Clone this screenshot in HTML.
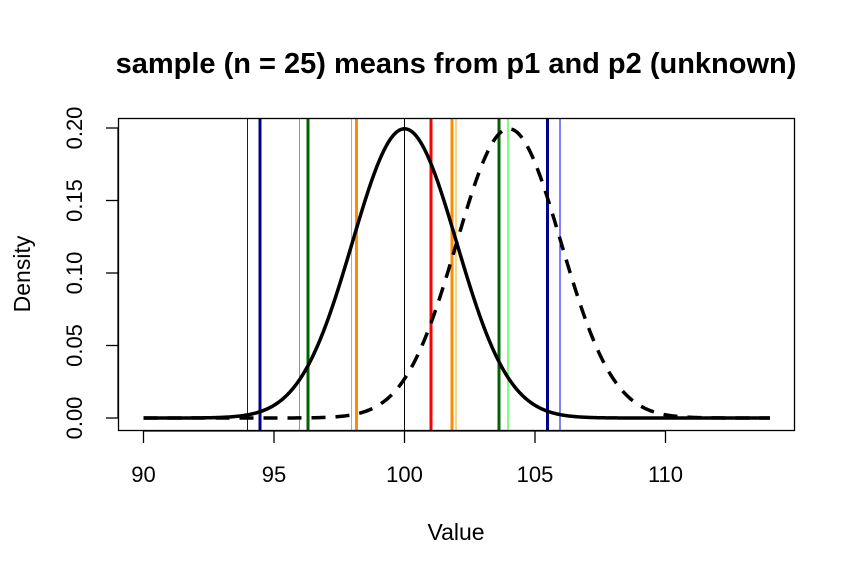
<!DOCTYPE html>
<html><head><meta charset="utf-8"><style>body{margin:0;background:#fff}svg{display:block}text{font-family:"Liberation Sans",Arial,sans-serif}</style></head>
<body>
<svg id="s" width="855" height="577" xmlns="http://www.w3.org/2000/svg">
<text x="456" y="73" font-size="29" font-weight="bold" text-anchor="middle">sample (n = 25) means from p1 and p2 (unknown)</text>
<text x="456" y="540" font-size="23" text-anchor="middle">Value</text>
<text transform="translate(30,274) rotate(-90)" font-size="23" text-anchor="middle">Density</text>
<g id="v"></g>
<path id="c1" fill="none" stroke="#000" stroke-width="3.5"/>
<path id="c2" fill="none" stroke="#000" stroke-width="3.5" stroke-dasharray="14,10"/>
<rect x="118.5" y="118.5" width="676" height="312" fill="none" stroke="#000" stroke-width="1.3"/>
<g id="ax" stroke="#000" stroke-width="1.3"></g>
<g id="lb" font-size="22"></g>
</svg>
<script>
var X=function(v){return 143.5+(v-90)*26.1},Y=function(d){return 418-d*1450};
var V=document.getElementById('v'),h='';
[[247.5,'#0000ff',1],[260,'#00008b',3],[299.5,'#00ff00',1],[308,'#006400',3],[351.5,'#ffa500',1],[356.5,'#ff8c00',3],[404.5,'#000',1],[431,'#ff0000',3],[452,'#ff8c00',3],[456,'#ffa500',1],[499,'#006400',3],[508,'#00ff00',1],[547.5,'#00008b',3],[560,'#0000ff',1]].forEach(function(l){h+='<line x1="'+l[0]+'" x2="'+l[0]+'" y1="118" y2="431" stroke="'+l[1]+'" stroke-width="'+l[2]+'"/>';});
V.innerHTML=h;
function p(m){var s='';for(var x=90;x<=114.001;x+=0.05){var d=Math.exp(-(x-m)*(x-m)/8)/(2*Math.sqrt(2*Math.PI));s+=(s?'L':'M')+X(x).toFixed(2)+','+Y(d).toFixed(2);}return s;}
document.getElementById('c1').setAttribute('d',p(100));
document.getElementById('c2').setAttribute('d',p(104));
var a='',b='';
[90,95,100,105,110].forEach(function(v){var x=X(v);a+='<line x1="'+x+'" x2="'+x+'" y1="431" y2="443"/>';b+='<text x="'+x+'" y="482" text-anchor="middle">'+v+'</text>';});
a+='<line x1="'+X(90)+'" x2="'+X(110)+'" y1="431" y2="431"/>';
[0,0.05,0.1,0.15,0.2].forEach(function(d){var y=Y(d);a+='<line x1="106" x2="118" y1="'+y+'" y2="'+y+'"/>';b+='<text transform="translate(82,'+y+') rotate(-90)" text-anchor="middle">'+d.toFixed(2)+'</text>';});
a+='<line x1="118" x2="118" y1="'+Y(0)+'" y2="'+Y(0.2)+'"/>';
document.getElementById('ax').innerHTML=a;document.getElementById('lb').innerHTML=b;
</script>
</body></html>
